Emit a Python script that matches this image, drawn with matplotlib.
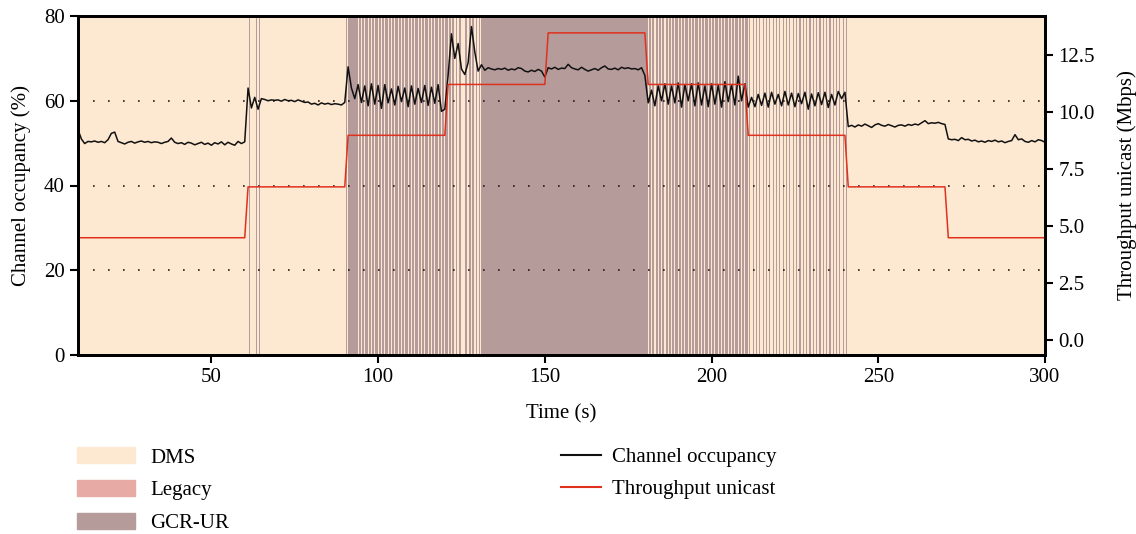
import matplotlib
matplotlib.use("Agg")
import matplotlib.pyplot as plt
import matplotlib.patches as mpatches
import matplotlib.lines as mlines
import numpy as np

plt.rcParams['font.family'] = ['Liberation Serif', 'DejaVu Serif']
plt.rcParams['font.size'] = 15

# Tempo (s), un campione al secondo
t_start, t_end = 10, 300
time = np.arange(t_start, t_end + 1)

# Occupazione del canale (%), t = 10 ... 300
occupancy = [
    53.2, 51.0, 49.9, 50.4, 50.3, 50.5, 50.2, 50.4, 50.1, 50.8,
    52.3, 52.6, 50.4, 50.1, 49.8, 50.2, 50.4, 50.0, 50.3, 50.5,
    50.2, 50.4, 50.1, 50.3, 50.2, 49.9, 50.2, 50.4, 51.2, 50.2,
    49.9, 50.1, 49.7, 50.2, 50.0, 49.6, 49.9, 50.2, 49.7, 50.0,
    49.5, 50.1, 49.8, 50.3, 49.6, 50.2, 49.8, 49.5, 50.4, 49.9,
    50.3, 63.0, 58.3, 60.8, 58.0, 60.5, 60.3, 60.0, 60.2, 60.1,
    60.2, 59.9, 60.3, 60.0, 60.1, 59.8, 60.2, 59.9, 59.6, 59.7,
    59.2, 59.4, 59.0, 59.5, 59.2, 59.4, 59.1, 59.3, 59.2, 59.0,
    59.6, 68.0, 63.0, 60.5, 63.8, 59.6, 63.5, 58.8, 64.0, 59.2,
    63.6, 58.2, 63.8, 59.5, 62.8, 59.0, 63.4, 59.8, 63.0, 58.6,
    63.5, 59.2, 62.9, 59.6, 63.6, 58.9, 63.2, 59.4, 63.8, 57.5,
    58.0, 66.0, 75.8, 70.0, 73.5, 67.5, 66.2, 69.0, 77.5, 71.5,
    67.0, 68.5, 67.2, 67.8, 67.5, 67.3, 67.6, 67.4, 67.7, 67.2,
    67.5, 67.3, 67.8, 67.6, 67.0, 66.8, 67.2, 66.9, 67.4, 67.0,
    65.6, 67.8, 67.5, 67.9, 67.4, 67.7, 67.6, 68.6, 67.8, 67.5,
    67.3, 67.9, 67.4, 67.0, 67.3, 67.6, 67.2, 67.8, 68.2, 67.5,
    67.4, 67.7, 67.3, 67.9, 67.6, 67.8, 67.5, 67.6, 67.3, 67.8,
    66.0, 59.5, 62.5, 58.8, 63.5, 60.0, 64.0, 59.2, 63.5, 59.5,
    64.2, 58.5, 63.8, 60.0, 64.0, 58.8, 64.2, 59.0, 63.5, 58.6,
    64.0, 59.2, 63.6, 58.5, 64.5, 59.8, 63.8, 59.0, 65.8, 60.0,
    64.0, 58.5, 60.8, 58.6, 61.5, 58.9, 61.8, 58.5, 62.0, 59.2,
    61.5, 58.8, 62.2, 59.0, 61.8, 58.6, 61.7, 59.3, 62.0, 58.0,
    61.6, 58.8, 61.9, 59.1, 62.0, 58.4, 61.5, 59.0, 62.2, 60.5,
    62.0, 53.9, 54.2, 53.8, 54.3, 54.0, 54.5, 54.1, 53.7, 54.3,
    54.6, 54.2, 54.0, 54.4, 54.1, 53.8, 54.2, 54.3, 54.0, 54.4,
    54.2, 54.5, 54.3, 54.8, 55.3, 54.6, 54.8, 54.7, 54.9, 54.6,
    54.4, 51.0, 50.8, 50.9, 50.6, 51.3, 50.8, 50.9, 50.5, 50.7,
    50.3, 50.5, 50.2, 50.6, 50.4, 50.7, 50.3, 50.5, 50.1, 50.4,
    50.6, 52.0, 50.8, 51.0, 50.4, 50.2, 50.6, 50.3, 50.8, 50.6,
    50.2,
]

# Throughput unicast (Mbps): un livello per ogni fase di 30 s
phase_edges = [10, 60, 90, 120, 150, 180, 210, 240, 270, 300]
throughput_levels = [4.47, 6.70, 8.96, 11.19, 13.45, 11.19, 8.96, 6.70, 4.47]

# Quota di ogni secondo passata in GCR-UR (il resto e' DMS), t = 10 ... 299
gcr_share = (
    [0.0] * 51
    + [0.3, 0.0, 0.3, 0.35, 0.0]
    + [0.0] * 24
    + [0.5, 1.0, 1.0, 0.8, 0.7, 0.75, 0.7, 0.65, 0.75, 0.7,
       0.7, 0.75, 0.65, 0.7, 0.75, 0.7, 0.7, 0.65, 0.75, 0.7,
       0.7, 0.75, 0.7, 0.65, 0.7, 0.75, 0.7, 0.7, 0.65, 0.7,
       0.75, 0.6, 0.7, 0.5, 0.75, 0.2, 0.6, 0.5, 0.7, 0.55,
       0.3]
    + [1.0] * 50
    + [0.7, 0.65, 0.6, 0.7, 0.65, 0.6, 0.7, 0.65, 0.7, 0.6,
       0.65, 0.7, 0.6, 0.65, 0.7, 0.6, 0.65, 0.7, 0.6, 0.65,
       0.7, 0.6, 0.65, 0.7, 0.6, 0.65, 0.7, 0.6, 0.65, 0.7]
    + [0.35, 0.4, 0.35, 0.3, 0.4, 0.35, 0.35, 0.3, 0.4, 0.35,
       0.35, 0.4, 0.3, 0.35, 0.35, 0.4, 0.35, 0.3, 0.35, 0.4,
       0.35, 0.35, 0.3, 0.4, 0.35, 0.35, 0.4, 0.3, 0.35, 0.5]
    + [0.0] * 59
)

mode_names = ['DMS', 'Legacy', 'GCR-UR']
mode_colors = ['#fde8d1', '#e8aaa5', '#b59c9b']

# Serie del throughput costruita dai livelli (salto di 1 s tra le fasi)
throughput = np.empty(len(time))
for i, lvl in enumerate(throughput_levels):
    mask = (time > phase_edges[i]) & (time <= phase_edges[i + 1])
    throughput[mask] = lvl
throughput[0] = throughput_levels[0]

fig = plt.figure(figsize=(11.36, 5.34), dpi=100)
ax = fig.add_axes([78 / 1136, 1 - 355 / 534, (1045 - 78) / 1136, (355 - 16) / 534])

# Sfondo: modalita' attiva
ax.axvspan(t_start, t_end, color=mode_colors[0], lw=0, zorder=0)
for k, share in enumerate(gcr_share):
    if share > 0:
        s = time[k] + (1 - share) / 2
        ax.axvspan(s, s + share, color=mode_colors[2], lw=0, zorder=0.5)

for yv in [20, 40, 60]:
    ax.axhline(yv, color='#2a1a18', lw=1.2, ls=(0, (1, 8)), zorder=1)

ax.plot(time, occupancy, color='#111111', lw=1.1, zorder=3)
ax.set_xlim(t_start, t_end)
ax.set_ylim(0, 80)
ax.set_yticks([0, 20, 40, 60, 80])
ax.set_xticks([50, 100, 150, 200, 250, 300])
ax.set_xlabel('Time (s)', labelpad=12)
ax.set_ylabel('Channel occupancy (%)', labelpad=9)

ax2 = ax.twinx()
ax2.plot(time, throughput, color='#e0301e', lw=1.1, zorder=2)
ax2.set_ylim(-0.67, 14.19)
ax2.set_yticks([0, 2.5, 5, 7.5, 10, 12.5])
ax2.set_yticklabels(['0.0', '2.5', '5.0', '7.5', '10.0', '12.5'])
ax2.set_ylabel('Throughput unicast (Mbps)', labelpad=16)

for a in (ax, ax2):
    for sp in a.spines.values():
        sp.set_linewidth(2)
    a.tick_params(width=1.5, length=6, direction='out')

mode_handles = [mpatches.Patch(color=c, label=n) for n, c in zip(mode_names, mode_colors)]
fig.legend(handles=mode_handles, loc='upper left', bbox_to_anchor=(67 / 1136, 1 - 437 / 534),
           frameon=False, handlelength=2.75, handleheight=0.8, handletextpad=0.75,
           labelspacing=0.6, borderpad=0)

line_handles = [mlines.Line2D([], [], color='#111111', lw=1.5, label='Channel occupancy'),
                mlines.Line2D([], [], color='#e0301e', lw=1.5, label='Throughput unicast')]
fig.legend(handles=line_handles, loc='upper left', bbox_to_anchor=(551 / 1136, 1 - 437 / 534),
           frameon=False, handlelength=1.9, handletextpad=0.55, labelspacing=0.6, borderpad=0)

fig.savefig('out.png', dpi=100)
